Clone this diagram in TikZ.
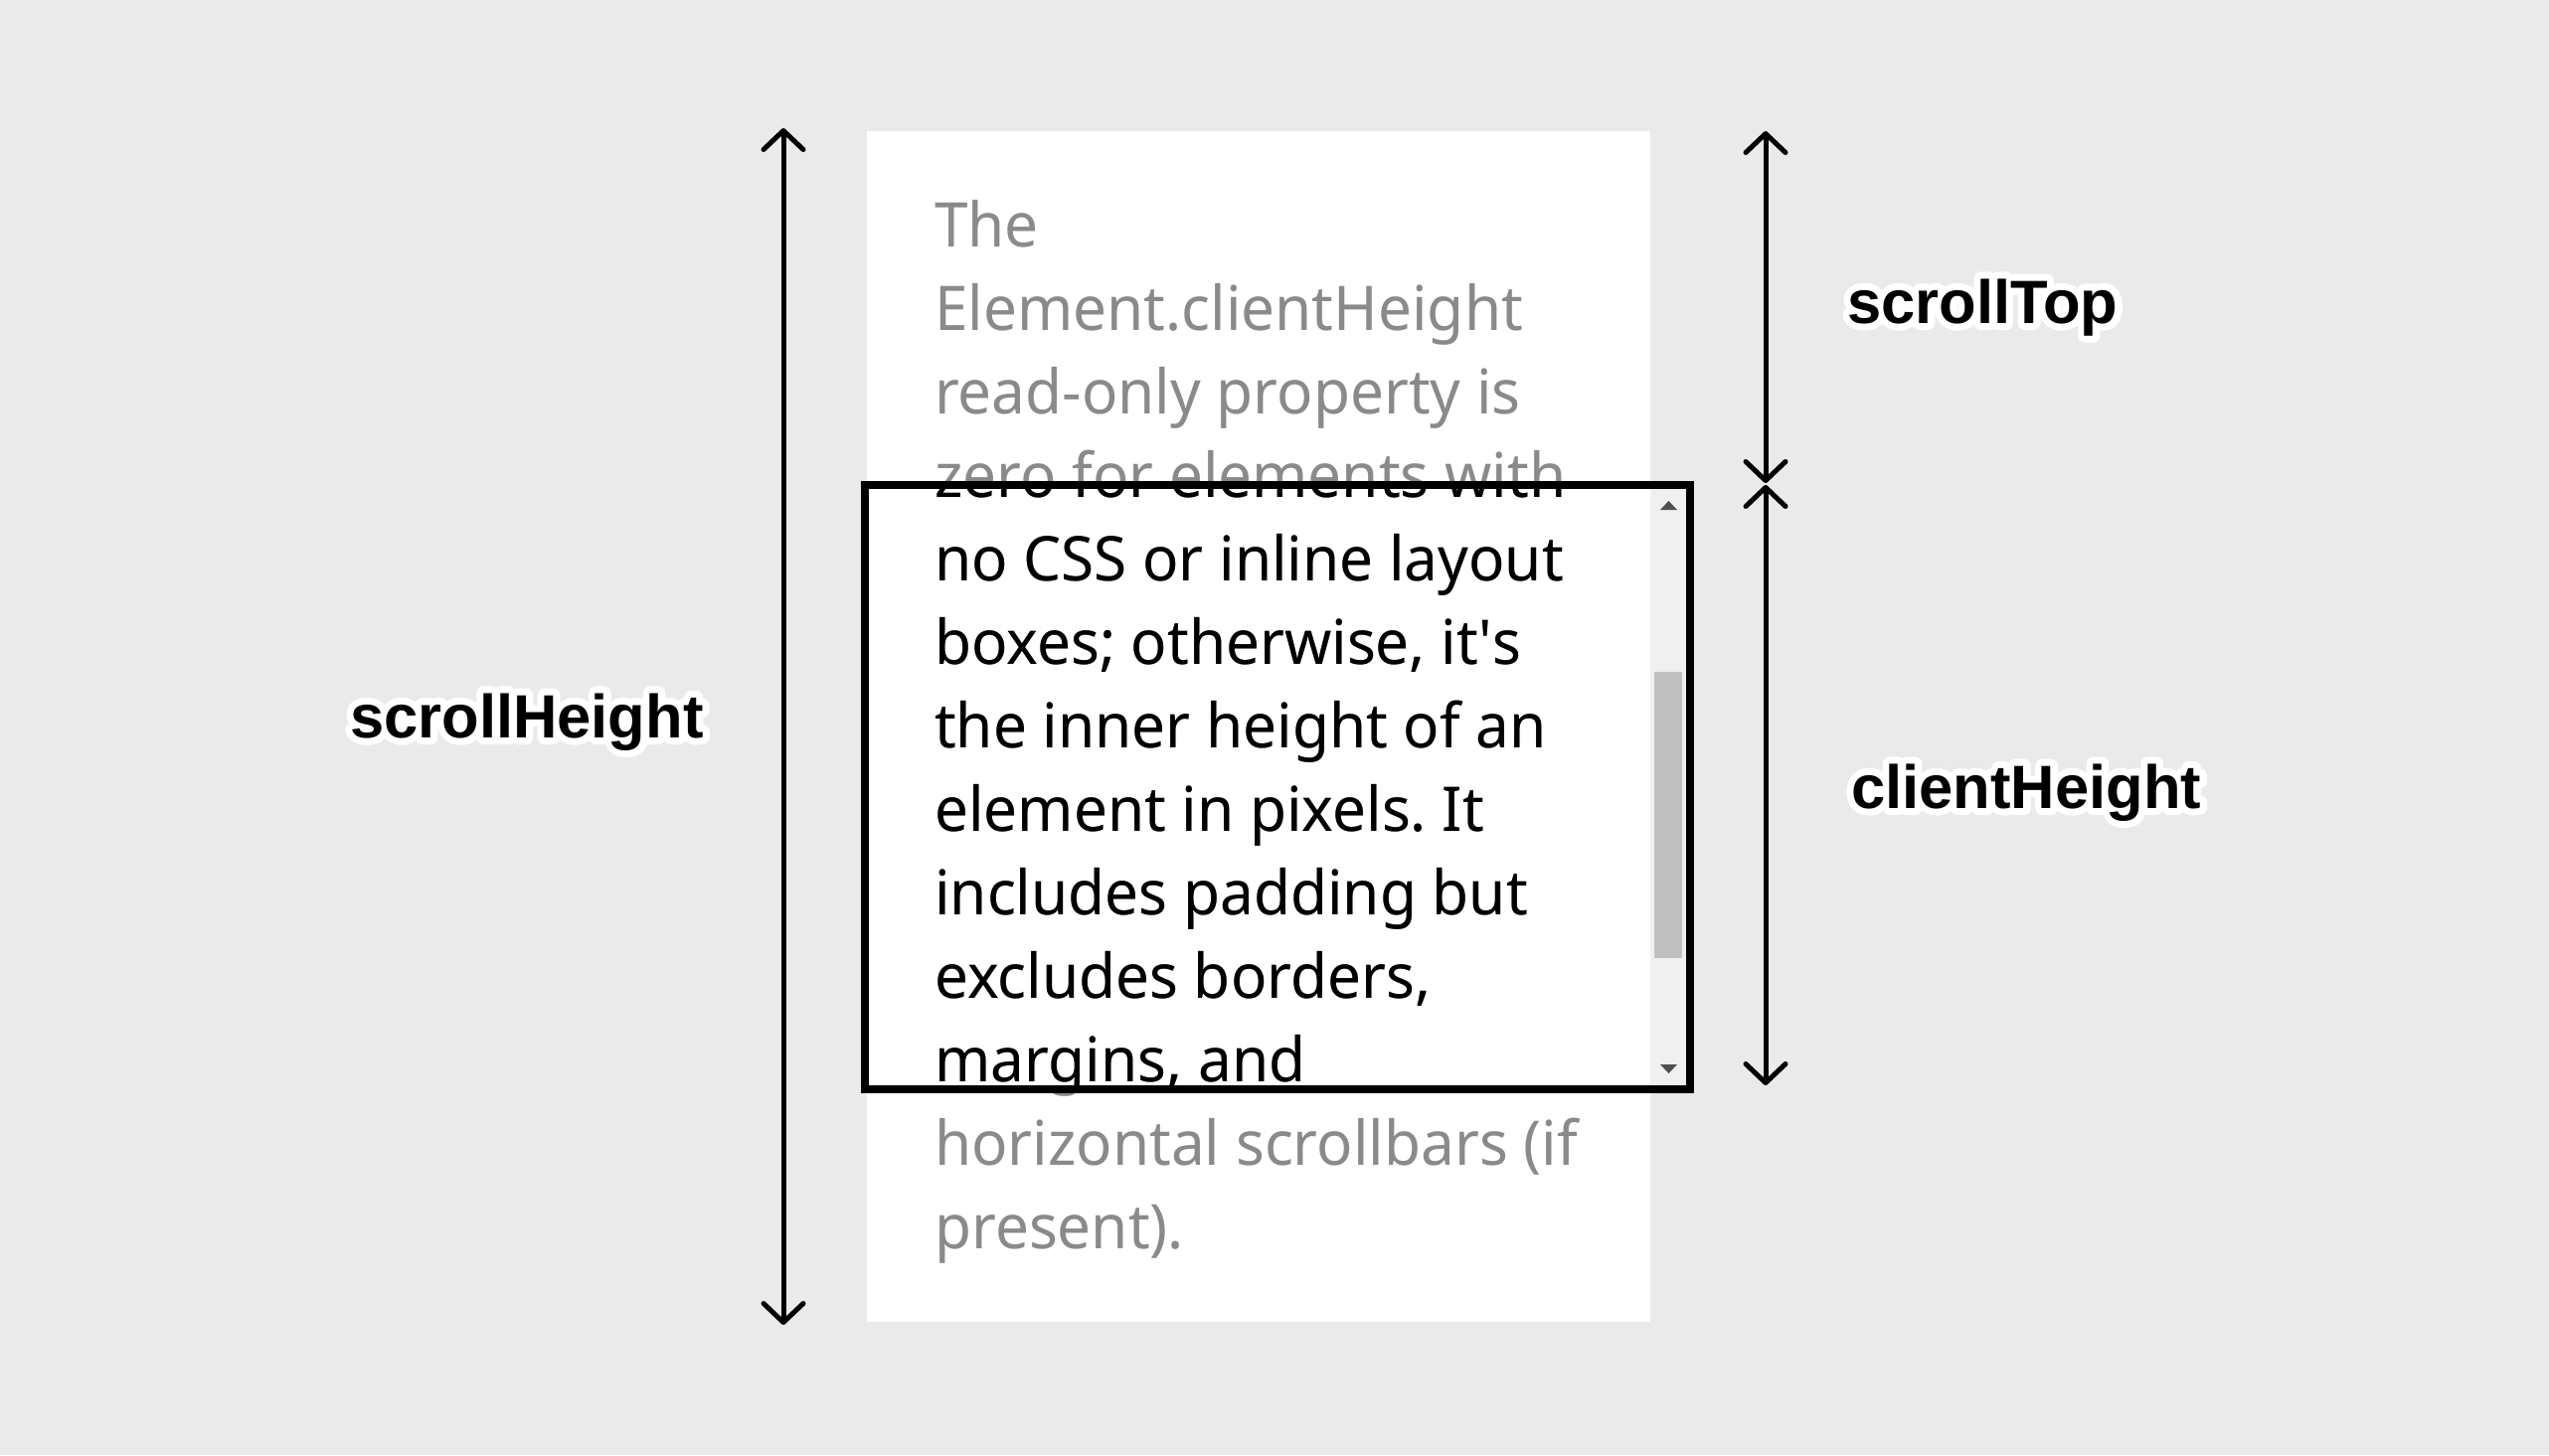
\documentclass[tikz,border=0pt]{standalone}
\usepackage{fontspec}
\setmainfont{Noto Sans}[FakeStretch=0.972]
\newfontfamily\tagfont{Liberation Sans}
\usetikzlibrary{arrows.meta}
\definecolor{pagebg}{HTML}{EAEAEA}
\definecolor{fadedtext}{HTML}{8A8A8A}
\definecolor{trackgray}{HTML}{F0F0F0}
\definecolor{thumbgray}{HTML}{C0C0C0}
\definecolor{nubgray}{HTML}{505050}
\frenchspacing
% white outline drawn under a label (text render mode 1 = stroke)
\newcommand\halotext[1]{%
  \rlap{\special{pdf:literal direct q 1 Tr 1 j 14 w 1 1 1 RG}#1\special{pdf:literal direct Q}}#1}

\begin{document}
\begin{tikzpicture}[x=1pt, y=-1pt]

        % 1. Page and the styles used below
        \path[use as bounding box, fill=pagebg] (0,0) rectangle (2564,1464);
        \tikzset{
          measure/.style={line width=5pt, line cap=round,
            {Straight Barb[length=19pt,width=40pt,round]}-{Straight Barb[length=19pt,width=40pt,round]}},
          bodyline/.style={anchor=base west, inner sep=0pt, font=\fontsize{62}{84}\selectfont},
          tag/.style={anchor=base west, inner sep=0pt, font=\tagfont\fontsize{61.5}{72}\selectfont\bfseries}
        }

        % 2. Corners of the scrolled content and of the visible window
        \coordinate (PanelTL) at (872,132);   % content top left
        \coordinate (PanelBR) at (1660,1330); % content bottom right
        \coordinate (ViewTL) at (870,488);    % window top left
        \coordinate (ViewBR) at (1700,1096);  % window bottom right

        \fill[white] (PanelTL) rectangle (PanelBR);

        % 3. The text, faded everywhere, then dark inside the window
        \def\bodytext{The, Element.clientHeight, read-only property is,
          zero for elements with, no CSS or inline layout,
          {boxes; otherwise, it\textquotesingle s}, the inner height of an,
          element in pixels. It, includes padding but, {excludes borders,},
          {margins, and}, horizontal scrollbars (if, present).}
        \foreach \txt [count=\i] in \bodytext
          \node[bodyline, text=fadedtext] (line\i) at (940,{248+84*(\i-1)}) {\txt};
        \begin{scope}
          \clip (874,492) rectangle (1696,1092);
          \foreach \txt [count=\i] in \bodytext
            \node[bodyline, text=black] (dark\i) at (940,{248+84*(\i-1)}) {\txt};
        \end{scope}

        % 4. Scrollbar of the window
        \fill[trackgray] (1660,492) rectangle (1696,1092);
        \fill[thumbgray] (1664,676) rectangle (1692,964);
        \fill[nubgray] (1670,513) -- (1678.5,504) -- (1687,513) -- cycle;
        \fill[nubgray] (1670,1071) -- (1678.5,1080) -- (1687,1071) -- cycle;

        \draw[line width=8pt] (ViewTL) rectangle (ViewBR);

        % 5. Measuring arrows
        \coordinate (HeightTop) at (788,129);
        \coordinate (HeightBot) at (788,1333);
        \coordinate (TopTop) at (1776,132);
        \coordinate (TopBot) at (1776,486);
        \coordinate (ClientTop) at (1776,488);
        \coordinate (ClientBot) at (1776,1092);

        \draw[measure] (HeightTop) -- (HeightBot);
        \draw[measure] (TopTop) -- (TopBot);
        \draw[measure] (ClientTop) -- (ClientBot);

        % 6. Names of the three measures
        \node[tag] (scrollHeight) at (352,742) {\halotext{scrollHeight}};
        \node[tag] (scrollTop) at (1858,325) {\halotext{scrollTop}};
        \node[tag] (clientHeight) at (1862,813) {\halotext{clientHeight}};

\end{tikzpicture}
\end{document}
